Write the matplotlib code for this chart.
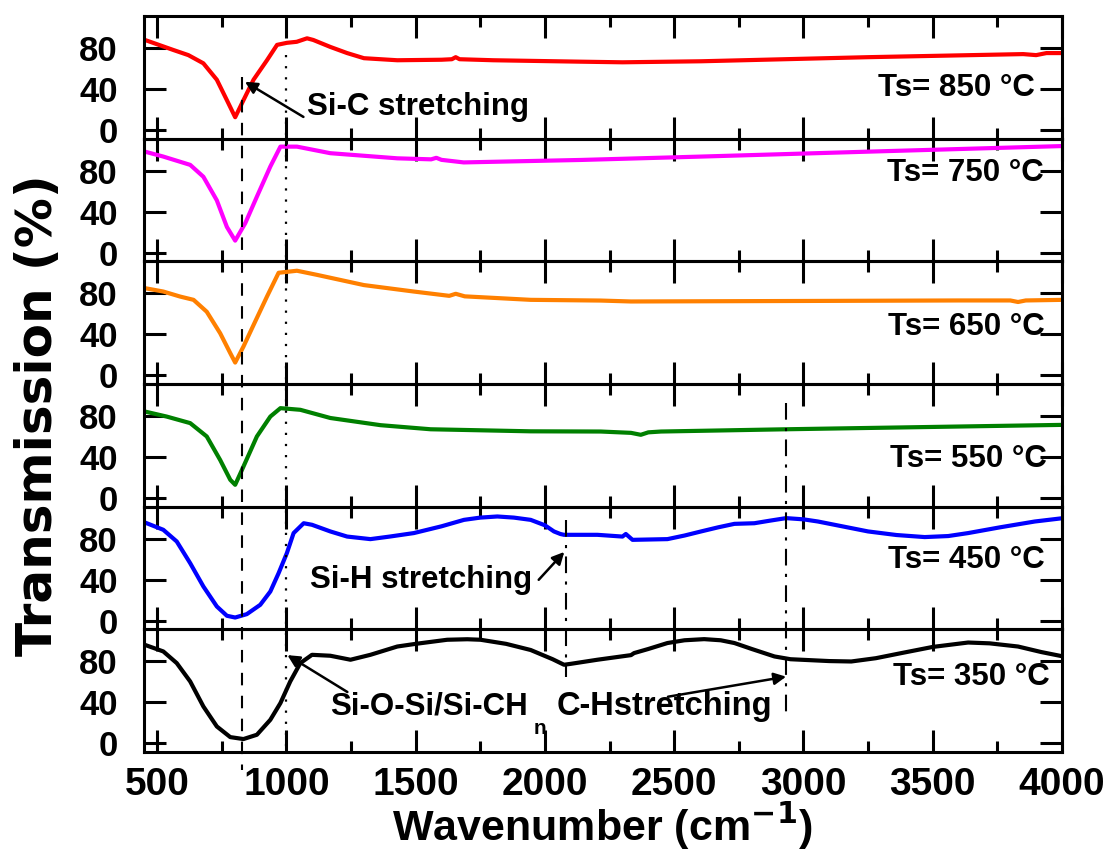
import numpy as np
import matplotlib
matplotlib.use('Agg')
import matplotlib.pyplot as plt
from matplotlib.ticker import MultipleLocator
from matplotlib.lines import Line2D
import matplotlib.transforms as mtransforms

plt.rcParams['font.family'] = ['Liberation Sans', 'DejaVu Sans']
plt.rcParams['font.weight'] = 'bold'
plt.rcParams['mathtext.default'] = 'bf'

# FTIR spectra, wavenumber (cm-1) vs transmission (%)
wn_850 = [453, 563, 621, 679, 731, 770, 802, 834, 873, 925, 964, 1002, 1040, 1080, 1104,
          1170, 1235, 1300, 1429, 1600, 1640, 1655, 1670, 1800, 2139, 2300, 2604, 3250, 3850,
          3900, 3940, 4006]
tr_850 = [87.8, 78, 73, 65, 49, 29, 12.4, 29, 49, 68, 83, 85, 86, 89.4, 87.8,
          81, 75, 70, 68, 68.5, 69, 71, 69, 68, 66.6, 66, 67, 71, 74,
          73, 75, 75]

wn_750 = [453, 524, 628, 679, 731, 770, 802, 841, 886, 938, 977, 1041, 1170, 1429, 1560,
          1580, 1600, 1686, 2139, 2604, 3250, 4006]
tr_750 = [98.5, 93.7, 85.6, 74, 51, 25, 11.7, 28.7, 54.6, 84, 103.4, 103.4, 97, 92, 91,
          92.5, 90.5, 88, 90.4, 93.7, 98.5, 104]

wn_650 = [453, 524, 589, 641, 692, 744, 783, 802, 834, 873, 925, 970, 1041, 1118, 1300,
          1493, 1630, 1655, 1690, 1945, 2216, 2333, 3000, 3600, 3800, 3830, 3860, 4005]
tr_650 = [85, 81.7, 76.8, 73.6, 62, 41, 21.6, 12.4, 28, 49, 76.8, 100, 102, 98, 88,
          81.7, 77.5, 79.5, 77, 73.6, 72.9, 72, 72.5, 73, 73, 71.5, 73, 73.6]

wn_550 = [453, 537, 628, 692, 744, 783, 802, 834, 886, 938, 977, 1054, 1170, 1364, 1558,
          1945, 2216, 2333, 2371, 2400, 2449, 2933, 4005]
tr_550 = [84.3, 79.4, 73, 60, 37, 17.7, 12.8, 30.6, 60, 79.4, 87.6, 86, 78, 71, 67,
          65, 64.8, 63.5, 61.6, 64, 64.8, 67, 71.3]

wn_450 = [453, 524, 576, 628, 679, 731, 770, 802, 847, 899, 938, 970, 1002, 1028, 1067,
          1099, 1170, 1235, 1325, 1400, 1493, 1600, 1687, 1750, 1816, 1880, 1945, 2000,
          2035, 2060, 2074, 2203, 2300, 2313, 2339, 2474, 2540, 2604, 2670, 2733, 2810,
          2870, 2933, 3000, 3056, 3150, 3250, 3360, 3469, 3560, 3637, 3760, 3895, 4005]
tr_450 = [95.7, 88.6, 77.2, 56, 33.3, 13.8, 4.7, 3, 6.3, 15.4, 28.4, 46.3, 65.9, 85.4, 95,
          93.5, 87, 82, 79.5, 82, 85.4, 92, 98.3, 100.5, 101.6, 100.5, 98.3, 93,
          87, 84.5, 83.7, 83.7, 82, 84.5, 78.8, 79.5, 83, 87, 91, 94.4, 95,
          97.5, 100, 98.8, 96.7, 92, 87, 83.5, 81.5, 82.5, 85.4, 91, 96.7, 100]

wn_350 = [453, 524, 576, 628, 679, 731, 783, 834, 886, 938, 977, 1015, 1054, 1099, 1170,
          1248, 1325, 1429, 1500, 1622, 1700, 1751, 1850, 1945, 2030, 2074, 2100, 2203,
          2333, 2345, 2400, 2474, 2540, 2616, 2680, 2733, 2800, 2888, 2950, 2991, 3100,
          3185, 3280, 3379, 3500, 3637, 3720, 3830, 3920, 4005]
tr_350 = [96, 89.6, 78.2, 60.3, 35.9, 16.4, 6, 4.1, 8.3, 22.9, 39.2, 60.3, 78.2, 86.3, 85.4,
          81.5, 86.3, 94.4, 97, 101, 101.5, 101, 97, 91, 82, 76.6, 77.5, 81.5,
          86, 88, 92, 97.8, 100.5, 101.6, 100.5, 97.8, 92, 84.7, 82, 81.5, 80.2,
          79.8, 83, 88, 94, 98.3, 97.5, 94.4, 89, 84.7]

spectra = [(wn_850, tr_850, '#ff0000', 'Ts= 850 \u00b0C', 3894, 41),
           (wn_750, tr_750, '#ff00ff', 'Ts= 750 \u00b0C', 3929, 78),
           (wn_650, tr_650, '#ff8000', 'Ts= 650 \u00b0C', 3933, 47),
           (wn_550, tr_550, '#008000', 'Ts= 550 \u00b0C', 3940, 38),
           (wn_450, tr_450, '#0000ff', 'Ts= 450 \u00b0C', 3933, 59),
           (wn_350, tr_350, '#000000', 'Ts= 350 \u00b0C', 3952, 65)]

# band positions marked across the panels
band_sic = 830
band_sio = 1000
band_sih = 2080
band_ch = 2933

fig = plt.figure(figsize=(11.09, 8.59), dpi=100)
left, right, top, bottom = 0.130, 0.9576, 0.9814, 0.1246
h = (top - bottom) / 6.0
axes = []
for i in range(6):
    ax = fig.add_axes([left, top - (i + 1) * h, right - left, h])
    ax.set_facecolor('none')
    axes.append(ax)

for i, (wn, tr, col, lab, lx, ly) in enumerate(spectra):
    ax = axes[i]
    ax.plot(wn, tr, color=col, lw=3.0, solid_joinstyle='round')
    ax.set_xlim(450, 4000)
    ax.set_ylim(-8.5, 111.2)
    ax.xaxis.set_major_locator(MultipleLocator(500))
    ax.xaxis.set_minor_locator(MultipleLocator(250))
    ax.set_yticks([0, 40, 80])
    ax.tick_params(which='both', direction='in', top=True, right=True, width=2.2)
    ax.tick_params(which='major', length=16)
    ax.tick_params(which='minor', length=8)
    ax.tick_params(axis='y', labelsize=25, pad=19)
    for s in ax.spines.values():
        s.set_linewidth(2.2)
    if i < 5:
        ax.tick_params(axis='x', labelbottom=False)
    else:
        ax.tick_params(axis='x', labelsize=28, pad=11)
    ax.text(lx, ly, lab, ha='right', va='center', fontsize=22.5, fontweight='bold')

# vertical band markers drawn over all panels
trans = mtransforms.blended_transform_factory(axes[5].transData, fig.transFigure)
fig.lines.append(Line2D([band_sic, band_sic], [1 - 77 / 859, 1 - 770 / 859], transform=trans,
                        color='black', lw=1.5, ls=(0, (6, 5))))
fig.lines.append(Line2D([band_sio, band_sio], [1 - 55 / 859, bottom], transform=trans,
                        color='black', lw=1.6, ls=(0, (1, 4))))
fig.lines.append(Line2D([band_sih, band_sih], [1 - 520 / 859, 1 - 677 / 859], transform=trans,
                        color='black', lw=1.5, ls=(0, (8, 4, 1.5, 4))))
fig.lines.append(Line2D([band_ch, band_ch], [1 - 403 / 859, 1 - 715 / 859], transform=trans,
                        color='black', lw=1.5, ls=(0, (8, 4, 1.5, 4))))

arrow = dict(arrowstyle='-|>', color='black', lw=1.8, mutation_scale=18, shrinkA=0, shrinkB=0)

axes[0].text(1081, 22, 'Si-C stretching', ha='left', va='center', fontsize=22.5)
axes[0].annotate('', xy=(band_sic + 10, 47), xytext=(1066, 12.7), arrowprops=arrow)

axes[4].text(1093, 39.8, 'Si-H stretching', ha='left', va='center', fontsize=22.5)
axes[4].annotate('', xy=(band_sih - 5, 67), xytext=(1976, 39.8), arrowprops=arrow)

axes[5].text(1170, 35.6, 'Si-O-Si/Si-CH', ha='left', va='center', fontsize=22.5)
axes[5].text(1958, 14, 'n', ha='left', va='center', fontsize=15)
axes[5].annotate('', xy=(1004, 86), xytext=(1236, 50), arrowprops=arrow)

axes[5].text(2045, 35.6, 'C-Hstretching', ha='left', va='center', fontsize=23.5)
axes[5].annotate('', xy=(band_ch, 65), xytext=(2476, 45.4), arrowprops=arrow)

fig.text(0.034, 0.517, 'Transmission (%)', rotation=90, ha='center', va='center',
         fontsize=36, fontweight='bold', family='DejaVu Sans')
fig.text(0.543, 0.038, 'Wavenumber (cm$^{\\mathbf{-1}}$)', ha='center', va='center',
         fontsize=31, fontweight='bold')

fig.savefig('out.png', dpi=100)
